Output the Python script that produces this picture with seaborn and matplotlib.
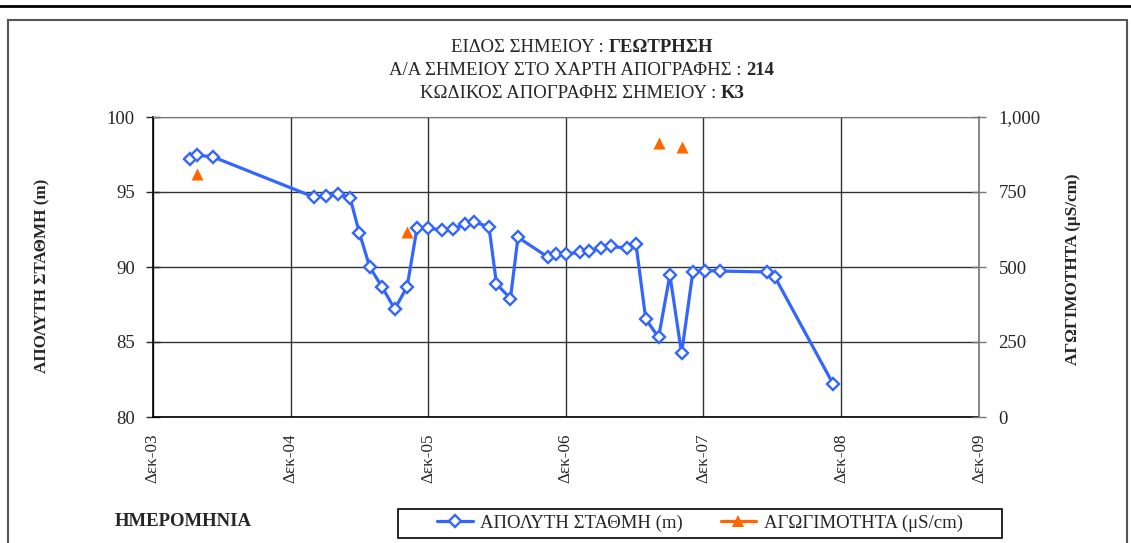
import pandas as pd
import matplotlib.pyplot as plt
from matplotlib.lines import Line2D
from matplotlib.patches import Rectangle
from matplotlib.ticker import FuncFormatter
import seaborn as sns

# Absolute water level (m) readings
level_dates = ['2004-03-09', '2004-03-27', '2004-05-08', '2005-02-02', '2005-03-04',
               '2005-04-06', '2005-05-08', '2005-06-01', '2005-06-29', '2005-08-01',
               '2005-09-03', '2005-10-06', '2005-11-01', '2005-11-30', '2006-01-06',
               '2006-02-05', '2006-03-09', '2006-04-01', '2006-05-11', '2006-05-31',
               '2006-07-07', '2006-07-27', '2006-10-15', '2006-11-04', '2006-12-01',
               '2007-01-08', '2007-02-01', '2007-03-04', '2007-03-31', '2007-05-12',
               '2007-06-05', '2007-07-01', '2007-08-04', '2007-09-03', '2007-10-04',
               '2007-11-03', '2007-12-06', '2008-01-14', '2008-05-17', '2008-06-07',
               '2008-11-09']
level = [97.2, 97.45, 97.35, 94.65, 94.73,
         94.9, 94.58, 92.3, 89.98, 88.65,
         87.2, 88.69, 92.58, 92.58, 92.47,
         92.53, 92.87, 92.98, 92.7, 88.87,
         87.9, 91.98, 90.65, 90.85, 90.87,
         90.98, 91.07, 91.25, 91.37, 91.25,
         91.53, 86.53, 85.31, 89.47, 84.24,
         89.69, 89.76, 89.73, 89.67, 89.36,
         82.2]

# Conductivity (uS/cm) readings
cond_dates = ['2004-03-27', '2005-10-06', '2007-08-04', '2007-10-04']
cond = [810, 618, 912, 901]

x_ticks = pd.date_range('2003-12-01', '2009-12-01', freq='12MS')
x_labels = ['Δεκ-03', 'Δεκ-04', 'Δεκ-05', 'Δεκ-06', 'Δεκ-07', 'Δεκ-08', 'Δεκ-09']

title_lines = [('ΕΙΔΟΣ ΣΗΜΕΙΟΥ : ', 'ΓΕΩΤΡΗΣΗ'),
               ('Α/Α ΣΗΜΕΙΟΥ ΣΤΟ ΧΑΡΤΗ ΑΠΟΓΡΑΦΗΣ : ', '214'),
               ('ΚΩΔΙΚΟΣ ΑΠΟΓΡΑΦΗΣ ΣΗΜΕΙΟΥ : ', 'K3')]

df_level = pd.DataFrame({'date': pd.to_datetime(level_dates), 'level': level})
df_cond = pd.DataFrame({'date': pd.to_datetime(cond_dates), 'cond': cond})

blue = '#3366FF'
orange = '#FF6600'
fs = 13.5

sns.set_style('white')
plt.rcParams['font.family'] = ['Liberation Serif', 'DejaVu Serif']

W, H = 1131, 543
fig = plt.figure(figsize=(W / 100, H / 100), dpi=100)
ax = fig.add_axes([152.7 / W, 1 - 417 / H, (979 - 152.7) / W, 300 / H])

sns.lineplot(data=df_level, x='date', y='level', ax=ax, color=blue, lw=2.3,
             marker='D', markersize=6, markerfacecolor='white',
             markeredgecolor=blue, markeredgewidth=1.7, zorder=3)

ax.set_xlim(x_ticks[0], x_ticks[-1])
ax.set_ylim(80, 100)
ax.set_yticks([80, 85, 90, 95, 100])
ax.set_xticks(x_ticks)
ax.set_xticklabels(x_labels, rotation=90, fontsize=12.3)
ax.tick_params(axis='y', labelsize=fs, direction='inout', length=10, width=1, pad=8)
ax.tick_params(axis='x', direction='inout', length=10, width=1, pad=7)
ax.grid(True, color='#333333', lw=1)
ax.set_xlabel('')
ax.set_ylabel('')
for s in ['left', 'bottom']:
    ax.spines[s].set_color('black')
    ax.spines[s].set_linewidth(1.2)
ax.spines['top'].set_color('#777777')
ax.spines['right'].set_visible(False)

ax2 = ax.twinx()
sns.scatterplot(data=df_cond, x='date', y='cond', ax=ax2, color=orange,
                marker='^', s=75, linewidth=0, zorder=4)
ax2.set_ylim(0, 1000)
ax2.set_yticks([0, 250, 500, 750, 1000])
ax2.yaxis.set_major_formatter(FuncFormatter(lambda v, p: f'{int(v):,}'))
ax2.tick_params(axis='y', labelsize=fs, direction='inout', length=10, width=1,
                pad=9, color='#777777')
ax2.set_ylabel('')
ax2.set_xlabel('')
ax2.grid(False)
ax2.spines['right'].set_color('#777777')
ax2.spines['right'].set_linewidth(1.2)
for s in ['left', 'top', 'bottom']:
    ax2.spines[s].set_visible(False)

# Axis titles
fig.text(42 / W, 1 - 276 / H, 'ΑΠΟΛΥΤΗ ΣΤΑΘΜΗ (m)', fontsize=12.3, fontweight='bold',
         rotation=90, ha='center', va='center')
fig.text(1073 / W, 1 - 269 / H, 'ΑΓΩΓΙΜΟΤΗΤΑ (μS/cm)', fontsize=12.3, fontweight='bold',
         rotation=90, ha='center', va='center')

# Title, mixed regular / bold
renderer = fig.canvas.get_renderer()
cx = 582 / W
for i, (reg, bld) in enumerate(title_lines):
    y = 1 - (48 + 22.5 * i) / H
    t1 = fig.text(0, y, reg, fontsize=fs, va='center')
    t2 = fig.text(0, y, bld, fontsize=fs, fontweight='bold', va='center')
    w1 = t1.get_window_extent(renderer).width / W
    w2 = t2.get_window_extent(renderer).width / W
    x0 = cx - (w1 + w2) / 2
    t1.set_x(x0)
    t2.set_x(x0 + w1)

fig.text(183.5 / W, 1 - 521.7 / H, 'ΗΜΕΡΟΜΗΝΙΑ', fontsize=fs, fontweight='bold',
         ha='center', va='center')

# Legend
handles = [Line2D([], [], color=blue, lw=2.3, marker='D', markersize=6,
                  markerfacecolor='white', markeredgecolor=blue, markeredgewidth=1.7),
           Line2D([], [], color=orange, lw=2.3, marker='^', markersize=9,
                  markeredgewidth=0)]
labels = ['ΑΠΟΛΥΤΗ ΣΤΑΘΜΗ (m)', 'ΑΓΩΓΙΜΟΤΗΤΑ (μS/cm)']
fig.legend(handles, labels, loc='center', bbox_to_anchor=(700 / W, 1 - 523 / H),
           ncol=2, frameon=False, fontsize=fs, handlelength=1.9,
           handletextpad=0.4, columnspacing=2.0)
fig.patches.append(Rectangle((398 / W, 1 - 538 / H), 604 / W, 29.5 / H,
                             transform=fig.transFigure, fill=False,
                             edgecolor='black', lw=1.2))

# Outer frame and top rule
fig.patches.append(Rectangle((8 / W, -0.05), (1126.7 - 8) / W, 1.05 - 20 / H,
                             transform=fig.transFigure, fill=False,
                             edgecolor='#555555', lw=1.5))
fig.lines.append(Line2D([0, 1], [1 - 6 / H, 1 - 6 / H], transform=fig.transFigure,
                        color='black', lw=2))

fig.savefig('out.png', dpi=100)
